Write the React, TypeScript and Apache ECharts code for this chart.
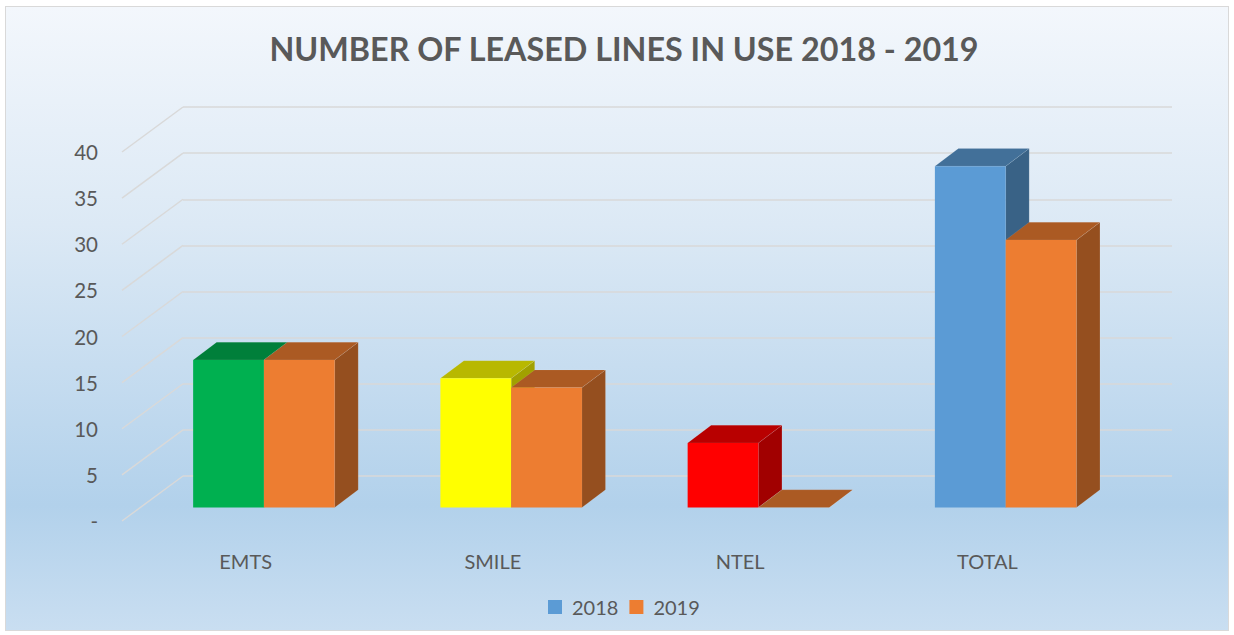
import React, { useEffect, useRef } from 'react';
import * as echarts from 'echarts';

// ---- data ----
const categories = ['EMTS', 'SMILE', 'NTEL', 'TOTAL'];
const seriesNames = ['2018', '2019'];
const values2018 = [16, 14, 7, 37];
const values2019 = [16, 13, 0, 29];
const colors2018 = ['#00B050', '#FFFF00', '#FF0000', '#5B9BD5'];
const colors2019 = ['#ED7D31', '#ED7D31', '#ED7D31', '#ED7D31'];
const legendColors = ['#5B9BD5', '#ED7D31'];
const yTicks = [0, 5, 10, 15, 20, 25, 30, 35, 40];
const titleText = 'NUMBER OF LEASED LINES IN USE 2018 - 2019';

// ---- layout ----
const W = 1234;
const H = 635;
const BACK = { left: 183, top: 107, right: 62, bottom: 159 };
const FLOOR_DX = 61; // depth of the floor, px
const FLOOR_DY = 45;
const BAR_POS = 0.7; // bar front plane position in depth (0 = back, 1 = front)
const BAR_FRAC = 0.2863; // single bar width / category band
const BAR_DX = 23.5;
const BAR_DY = 17.7;
const TEXT = '#595959';
const FONT = 'Lato';

function shade(hex: string, f: number) {
  const n = parseInt(hex.slice(1), 16);
  const r = Math.round(((n >> 16) & 255) * f);
  const g = Math.round(((n >> 8) & 255) * f);
  const b = Math.round((n & 255) * f);
  return `rgb(${r},${g},${b})`;
}

function gridAt(t: number) {
  const dx = FLOOR_DX * t;
  const dy = FLOOR_DY * t;
  return {
    left: BACK.left - dx,
    right: BACK.right + dx,
    top: BACK.top + dy,
    bottom: BACK.bottom - dy,
  };
}

function makeBarRender(side: number, colors: string[]) {
  return (params: any, api: any) => {
    const c = api.value(0);
    const v = api.value(1);
    const base = api.coord([c, 0]);
    const top = api.coord([c, v]);
    const band = api.size([1, 0])[0];
    const w = band * BAR_FRAC;
    const x0 = side === 0 ? base[0] - w : base[0];
    const x1 = x0 + w;
    const yb = base[1];
    const yt = top[1];
    const col = colors[params.dataIndex];
    const edge = 'rgba(255,255,255,0.18)';
    return {
      type: 'group',
      children: [
        {
          type: 'polygon',
          shape: { points: [[x1, yt], [x1 + BAR_DX, yt - BAR_DY], [x1 + BAR_DX, yb - BAR_DY], [x1, yb]] },
          style: { fill: shade(col, 0.63), stroke: edge, lineWidth: 0.5 },
        },
        {
          type: 'polygon',
          shape: { points: [[x0, yt], [x0 + BAR_DX, yt - BAR_DY], [x1 + BAR_DX, yt - BAR_DY], [x1, yt]] },
          style: { fill: shade(col, 0.72), stroke: edge, lineWidth: 0.5 },
        },
        {
          type: 'rect',
          shape: { x: x0, y: yt, width: w, height: yb - yt },
          style: { fill: col },
        },
      ],
    };
  };
}

export default function App() {
  const ref = useRef<HTMLDivElement>(null);

  useEffect(() => {
    if (!ref.current) return;
    const chart = echarts.init(ref.current, undefined, { renderer: 'svg' });
    const gBack = gridAt(0);
    const gBar = gridAt(BAR_POS);
    const gFront = gridAt(1);

    const yBase = { type: 'value', min: 0, max: 40, interval: 5 };

    chart.setOption({
      animation: false,
      backgroundColor: 'transparent',
      title: {
        text: titleText,
        left: 624,
        textAlign: 'center',
        top: 26,
        padding: 0,
        textStyle: { fontFamily: FONT, fontSize: 32.3, fontWeight: 'bold', color: TEXT, lineHeight: 44 },
      },
      legend: {
        data: seriesNames,
        left: 543,
        top: 592,
        icon: 'rect',
        itemWidth: 14,
        itemHeight: 14,
        itemGap: 11,
        textStyle: { fontFamily: FONT, fontSize: 20, color: TEXT, padding: [0, 0, 0, 5] },
      },
      grid: [
        { ...gBar, containLabel: false },
        { ...gFront, containLabel: false },
        { ...gBack, containLabel: false },
      ],
      xAxis: [
        { type: 'category', data: categories, gridIndex: 0, show: false },
        {
          type: 'category',
          data: categories,
          gridIndex: 1,
          axisLine: { show: false },
          axisTick: { show: false },
          axisLabel: { margin: 30, fontFamily: FONT, fontSize: 20, color: TEXT },
        },
        { type: 'value', min: 0, max: 1, gridIndex: 2, show: false },
      ],
      yAxis: [
        { ...yBase, gridIndex: 0, show: false },
        {
          ...yBase,
          gridIndex: 1,
          axisLine: { show: false },
          axisTick: { show: false },
          splitLine: { show: false },
          axisLabel: {
            margin: 24,
            fontFamily: FONT,
            fontSize: 20.5,
            color: TEXT,
            formatter: (v: number) => (v === 0 ? '-' : String(v)),
          },
        },
        {
          ...yBase,
          gridIndex: 2,
          axisLine: { show: false },
          axisTick: { show: false },
          axisLabel: { show: false },
          splitLine: { show: true, lineStyle: { color: '#D9D9D9', width: 1.5 } },
        },
      ],
      series: [
        {
          type: 'custom',
          name: 'walls',
          xAxisIndex: 2,
          yAxisIndex: 2,
          silent: true,
          data: yTicks.map((v) => [0, v]),
          renderItem: (params: any, api: any) => {
            const p = api.coord([0, api.value(1)]);
            return {
              type: 'line',
              shape: { x1: p[0], y1: p[1], x2: p[0] - FLOOR_DX, y2: p[1] + FLOOR_DY },
              style: { stroke: '#D9D9D9', lineWidth: 1.5 },
            };
          },
        },
        {
          type: 'custom',
          name: seriesNames[0],
          xAxisIndex: 0,
          yAxisIndex: 0,
          itemStyle: { color: legendColors[0] },
          data: values2018.map((v, i) => [i, v]),
          renderItem: makeBarRender(0, colors2018),
        },
        {
          type: 'custom',
          name: seriesNames[1],
          xAxisIndex: 0,
          yAxisIndex: 0,
          itemStyle: { color: legendColors[1] },
          data: values2019.map((v, i) => [i, v]),
          renderItem: makeBarRender(1, colors2019),
        },
      ],
    });
    return () => chart.dispose();
  }, []);

  return (
    <div style={{ position: 'absolute', left: 0, top: 0, width: W, height: H, background: '#ffffff' }}>
      <div
        style={{
          position: 'absolute',
          left: 5,
          top: 6,
          width: 1224,
          height: 625,
          boxSizing: 'border-box',
          border: '1px solid #D9D9D9',
          background: 'linear-gradient(180deg, #F3F7FC 0%, #DCE9F5 35%, #B2D1EB 80%, #C9DEF1 100%)',
        }}
      />
      <div ref={ref} style={{ position: 'absolute', left: 0, top: 0, width: W, height: H }} />
    </div>
  );
}
